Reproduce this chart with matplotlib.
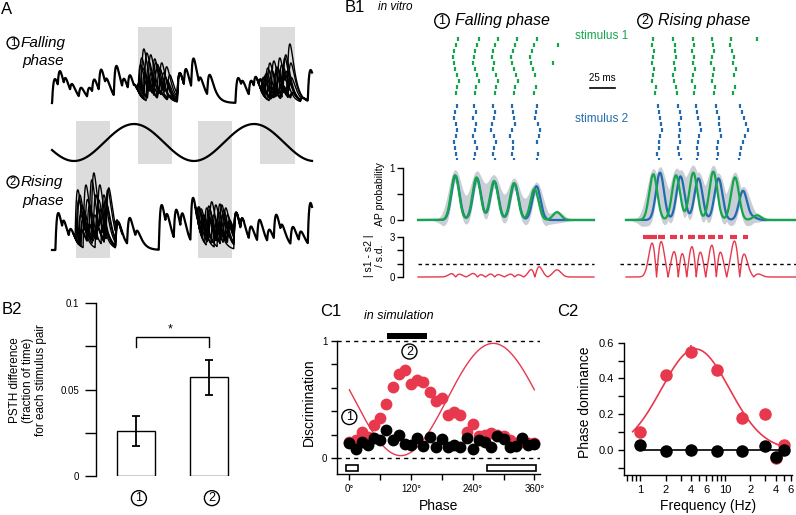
import numpy as np
import matplotlib.pyplot as plt
from matplotlib.patches import Rectangle

plt.rcParams['font.family'] = ['Liberation Sans', 'DejaVu Sans']
plt.rcParams['font.size'] = 7
plt.rcParams['axes.linewidth'] = 1.0

W, H = 796, 515
GREEN = '#14a64b'
BLUE = '#226bb0'
RED = '#e8384d'
SHADE = '#dcdcdc'
BAND = '#c9cdd5'

# ---------------- data ----------------
# A: EPSP peaks (time, height above rest)
top_peaks = [(3, 24), (8.7, 31), (14.7, 23), (21, 18), (29.7, 15), (38, 15), (43, 23), (49.7, 33),
             (56, 22), (64.7, 37), (73, 23), (78.7, 27), (84.7, 15), (88, 18), (98, 17), (108, 12),
             (118, 7), (128, 30), (134.7, 33), (142, 44), (149.7, 23), (158, 28), (186.3, 25),
             (192, 20), (199.7, 22), (204.7, 25), (209.7, 22), (221.3, 15), (231.3, 17),
             (241.3, 10), (251.3, 5), (258.7, 33)]
bottom_peaks = [(6.3, 37), (13, 27), (19.7, 20), (29.7, 20), (38, 25), (46.3, 22), (54.7, 18),
                (66.3, 28), (78, 32), (86.3, 18), (109.7, 45), (116.3, 33), (124.7, 40),
                (131.3, 35), (141.3, 52), (148, 40), (158, 32), (168, 25), (178, 23), (184.7, 37),
                (191.3, 30), (199.7, 23), (208, 30), (218, 20), (224.7, 35), (231.3, 23),
                (241.3, 23), (249.7, 18), (258.7, 47)]
# repeated trials inside the shaded windows
top_trials_1 = [[(90, 45), (100, 30), (110, 20)], [(92, 54), (104, 40), (114, 25)],
                [(95, 50), (108, 35)], [(89, 38), (99, 48), (112, 30)],
                [(97, 42), (106, 38), (116, 22)], [(93, 30), (103, 44), (118, 28)],
                [(91, 35), (101, 25), (110, 40)], [(94, 28), (105, 33), (115, 36)]]
top_trials_2 = [[(214, 28), (226, 35), (238, 59)], [(216, 35), (228, 45), (236, 30)],
                [(212, 25), (224, 30), (234, 48)], [(218, 40), (230, 38), (240, 25)],
                [(210, 22), (222, 42), (232, 35)], [(215, 30), (227, 25), (239, 40)],
                [(220, 33), (233, 45)], [(213, 26), (225, 36), (237, 22)]]
bottom_trials_1 = [[(28, 55), (40, 70), (50, 40)], [(30, 45), (42, 77), (54, 50)],
                   [(26, 60), (36, 50), (48, 65)], [(32, 40), (44, 55), (56, 60)],
                   [(29, 35), (38, 45), (52, 55)], [(27, 50), (46, 40), (57, 62)],
                   [(31, 30), (43, 35), (55, 45)], [(34, 65), (47, 50)]]
bottom_trials_2 = [[(150, 40), (160, 48), (172, 40)], [(152, 35), (164, 45), (176, 35)],
                   [(148, 30), (158, 40), (170, 45)], [(155, 42), (167, 38), (178, 30)],
                   [(151, 28), (162, 35), (174, 42)], [(149, 38), (165, 30)],
                   [(153, 32), (168, 46), (179, 28)], [(157, 44), (171, 36)]]

# B1: spike times (ms) per trial
green_left = [[55, 76, 95, 114, 134], [53, 74, 92, 112, 131, 155], [51, 72, 90, 110, 129],
              [50, 71, 89, 108, 127], [51, 70, 91, 109, 128, 150], [52, 72, 90, 111, 130],
              [54, 74, 93, 113, 132], [56, 76, 95, 115],
              [54, 73, 93, 112, 133], [53, 72, 92, 111, 131]]
green_right = [[250, 270, 290, 309, 328, 354], [249, 272, 291, 310, 327], [251, 272, 289, 311, 329],
               [250, 273, 291, 309, 331], [249, 271, 290, 308, 330], [251, 272, 292, 311, 333],
               [250, 270, 290, 310, 331], [249, 271, 289, 309], [253, 273, 292, 312, 332],
               [252, 274, 291, 311, 330]]
blue_left = [[54, 71, 90, 109, 134], [52, 73, 92, 110, 133], [51, 70, 91, 111, 132],
             [53, 73, 89, 112, 135], [54, 72, 88, 109, 137], [53, 70, 91, 107, 136],
             [51, 72, 93, 110, 134], [52, 74, 91, 110], [53, 72, 90, 109, 135],
             [54, 71, 92, 111, 134]]
blue_right = [[255, 275, 293, 313, 337], [256, 277, 294, 314, 339], [257, 278, 295, 316, 341],
              [258, 276, 297, 316, 343], [259, 277, 298, 317, 345], [257, 276, 296, 318, 342],
              [256, 277, 295, 315, 340], [256, 275, 294, 314, 338], [254, 276, 295, 315, 337],
              [256, 278, 294, 314, 336]]
# B1: PSTH peaks (time ms, AP probability)
psth_green = [(52, .86), (73.5, .82), (91, .75), (111, .71), (131.5, .60), (154, .15),
              (250.3, .88), (273, .86), (290.3, .91), (310.3, .93), (332, .82), (354, .09)]
psth_blue = [(52.5, .85), (74, .80), (91.5, .74), (111.5, .70), (133.5, .65),
             (257, .91), (277.5, .84), (295.5, .80), (315.5, .80), (340, .56), (350, .05)]
sig_marks = [(240, 254), (255, 262), (267, 274), (277, 280), (285, 292), (295, 302),
             (305, 312), (315, 320), (327, 334), (340, 345)]

# B2
b2_groups = ['1', '2']
b2_mean = [0.026, 0.057]
b2_err = [0.0085, 0.010]

# C1
c1_phase = np.arange(0, 361, 12)
c1_red = [0.14, 0.15, 0.22, 0.18, 0.28, 0.345, 0.46, 0.61, 0.72, 0.75, 0.63, 0.67, 0.65, 0.56,
          0.49, 0.51, 0.37, 0.39, 0.37, 0.22, 0.29, 0.19, 0.20, 0.21, 0.20, 0.19, 0.15, 0.13,
          0.14, 0.13, 0.13]
c1_red_err = [0.02, 0.02, 0.03, 0.03, 0.03, 0.03, 0.035, 0.03, 0.03, 0.025, 0.03, 0.03, 0.035,
              0.03, 0.03, 0.035, 0.03, 0.03, 0.025, 0.02, 0.025, 0.02, 0.02, 0.025, 0.025,
              0.02, 0.02, 0.02, 0.02, 0.02, 0.02]
c1_black = [0.13, 0.08, 0.14, 0.11, 0.17, 0.15, 0.24, 0.15, 0.20, 0.12, 0.11, 0.17, 0.10, 0.18,
            0.09, 0.16, 0.09, 0.11, 0.09, 0.17, 0.08, 0.15, 0.14, 0.09, 0.19, 0.16, 0.09, 0.10,
            0.17, 0.11, 0.12]
c1_black_err = [0.02] * len(c1_black)
c1_sine_center, c1_sine_amp, c1_sine_min = 0.5, 0.48, 100

# C2
c2_freq = [1, 2, 4, 8, 16, 30, 40, 50]
c2_red = [0.10, 0.42, 0.55, 0.445, 0.18, 0.20, -0.045, 0.03]
c2_red_err = [0.015, 0.03, 0.035, 0.03, 0.03, 0.025, 0.02, 0.02]
c2_black = [0.025, -0.005, 0.0, -0.005, -0.005, 0.02, -0.04, 0.0]
c2_fit_amp, c2_fit_peak, c2_fit_width = 0.565, 4.5, 0.40

# ---------------- helpers ----------------
fig = plt.figure(figsize=(W / 100, H / 100), dpi=100)


def px_axes(x0, y0, x1, y1):
    return fig.add_axes([x0 / W, 1 - y1 / H, (x1 - x0) / W, (y1 - y0) / H])


def ftext(x, y, s, **kw):
    fig.text(x / W, 1 - y / H, s, **kw)


def circled(ax_or_fig, x, y, s, size=9, pad=0.12, **kw):
    ax_or_fig.text(x, y, s, ha='center', va='center', fontsize=size,
                   bbox=dict(boxstyle='circle,pad=%g' % pad, fc='white', ec='black', lw=1.0), **kw)


def epsp_trace(tt, peaks, tau_r=2.0, tau_d=4.5):
    s_pk = tau_r * tau_d / (tau_d - tau_r) * np.log(tau_d / tau_r)
    norm = np.exp(-s_pk / tau_d) - np.exp(-s_pk / tau_r)
    v = np.zeros_like(tt)
    for tp, hp in sorted(peaks):
        resid = np.interp(tp, tt, v)
        s = np.clip(tt - (tp - s_pk), 0, None)
        v += max(hp - resid, 0) * (np.exp(-s / tau_d) - np.exp(-s / tau_r)) / norm
    return v


# ---------------- A ----------------
axA = px_axes(40, 20, 320, 262)
axA.set_xlim(-12, 268)
axA.set_ylim(0, 242)
axA.axis('off')
for w0, w1 in [(86, 120), (208, 243)]:
    axA.add_patch(Rectangle((w0, 98), w1 - w0, 137, fc=SHADE, ec='none', zorder=0))
for w0, w1 in [(24, 58), (146, 180)]:
    axA.add_patch(Rectangle((w0, 4), w1 - w0, 137, fc=SHADE, ec='none', zorder=0))

tt = np.linspace(0, 260, 2600)
for rest, base, wins in [(159, top_peaks, [((86, 120), top_trials_1), ((208, 243), top_trials_2)]),
                         (12, bottom_peaks, [((24, 58), bottom_trials_1), ((146, 180), bottom_trials_2)])]:
    axA.plot(tt, rest + epsp_trace(tt, base), color='black', lw=1.6, zorder=3)
    for (w0, w1), trials in wins:
        outside = [p for p in base if not (w0 <= p[0] <= w1)]
        seg = (tt >= w0 - 3) & (tt <= w1 + 12)
        for tr in trials:
            v = rest + epsp_trace(tt, outside + tr)
            axA.plot(tt[seg], v[seg], color='black', lw=1.0, zorder=2)

axA.plot(tt, 119.5 - 18.5 * np.cos(2 * np.pi * (tt - 22) / 120), color='black', lw=1.6)

ftext(1, 10, 'A', fontsize=12, va='center')
circled(fig, 13 / W, 1 - 43 / H, '1', size=8, pad=0.08)
ftext(21, 43, 'Falling', fontsize=11, style='italic', va='center')
ftext(22, 61, 'phase', fontsize=11, style='italic', va='center')
circled(fig, 13 / W, 1 - 182 / H, '2', size=8, pad=0.08)
ftext(21, 182, 'Rising', fontsize=11, style='italic', va='center')
ftext(22, 201, 'phase', fontsize=11, style='italic', va='center')

# ---------------- B1 ----------------
ftext(345, 7, 'B1', fontsize=12, va='center')
ftext(378, 7, 'in vitro', fontsize=8.5, style='italic', va='center')
circled(fig, 442 / W, 1 - 21 / H, '1', size=9, pad=0.1)
ftext(455, 21, 'Falling phase', fontsize=11.5, style='italic', va='center')
circled(fig, 645 / W, 1 - 21 / H, '2', size=9, pad=0.1)
ftext(658, 21, 'Rising phase', fontsize=11.5, style='italic', va='center')
ftext(602, 36, 'stimulus 1', fontsize=8.5, color=GREEN, ha='center', va='center')
ftext(602, 118.5, 'stimulus 2', fontsize=8.5, color=BLUE, ha='center', va='center')

axR = px_axes(403, 30, 796, 165)
axR.set_xlim(0, 393)
axR.set_ylim(135, 0)
axR.axis('off')
green_trials = [a + b for a, b in zip(green_left, green_right)]
blue_trials = [a + b for a, b in zip(blue_left, blue_right)]
axR.eventplot(green_trials, lineoffsets=[9 + 6 * i for i in range(10)], linelengths=4.8,
              linewidths=1.6, colors=GREEN)
axR.eventplot(blue_trials, lineoffsets=[76 + 6 * i for i in range(10)], linelengths=4.8,
              linewidths=1.6, colors=BLUE)
axR.plot([187, 212], [58, 58], color='black', lw=1.2)
axR.text(199.5, 53, '25 ms', fontsize=7, ha='center', va='bottom')

t = np.linspace(0, 393, 3000)


def psth(peaks, sigma=4.0, scale=1.0):
    y = np.zeros_like(t)
    for tp, h in peaks:
        y += h * scale * np.exp(-0.5 * ((t - tp) / sigma) ** 2)
    return y


g = psth(psth_green)
b = psth(psth_blue)
mx, mn = np.maximum(g, b), np.minimum(g, b)
env = np.clip(np.maximum(psth(psth_green, 9), psth(psth_blue, 9)) / 0.35, 0, 1)
upper = np.maximum(np.maximum(psth(psth_green, 6.5, 1.12), psth(psth_blue, 6.5, 1.12)), mx + 0.08 * env)
lower = mn - 0.12 * env
left = (t >= 15) & (t <= 191)
right = t >= 223

axP = px_axes(403, 160, 796, 228)
axP.set_xlim(0, 393)
axP.set_ylim(-0.154, 1.154)
for m in (left, right):
    axP.fill_between(t[m], lower[m], upper[m], color=BAND, lw=0)
    axP.plot(t[m], b[m], color=BLUE, lw=1.6)
    axP.plot(t[m], g[m], color=GREEN, lw=1.6)
axP.set_yticks([0, 0.5, 1])
axP.set_yticklabels(['0', '', '1'])
axP.set_xticks([])
for s in ('top', 'right', 'bottom'):
    axP.spines[s].set_visible(False)
axP.spines['left'].set_bounds(0, 1)
axP.tick_params(axis='y', direction='out', length=4, width=1, pad=2, labelsize=7)
axP.set_ylabel('AP probability', fontsize=7.5, labelpad=3)

axD = px_axes(403, 230, 796, 282)
axD.set_xlim(0, 393)
axD.set_ylim(-0.375, 3.525)
d = np.abs(g - b) / 0.28
axD.plot([15, 191], [1, 1], color='black', lw=1.0, ls=(0, (2.5, 2.5)))
axD.plot([217, 393], [1, 1], color='black', lw=1.0, ls=(0, (2.5, 2.5)))
for m in (left, right):
    axD.plot(t[m], d[m], color=RED, lw=1.0)
for s0, s1 in sig_marks:
    axD.plot([s0, s1], [3, 3], color=RED, lw=3, solid_capstyle='butt')
axD.set_yticks([0, 1, 2, 3])
axD.set_yticklabels(['0', '', '', '3'])
axD.set_xticks([])
for s in ('top', 'right', 'bottom'):
    axD.spines[s].set_visible(False)
axD.spines['left'].set_bounds(0, 3)
axD.tick_params(axis='y', direction='out', length=4, width=1, pad=2, labelsize=7)
axD.set_ylabel('| s1 - s2 |\n/ s.d.', fontsize=7.5, labelpad=3, linespacing=1.1)

# ---------------- B2 ----------------
ftext(2, 309, 'B2', fontsize=12, va='center')
axB2 = px_axes(96, 303, 240, 476)
xpos = np.arange(len(b2_groups))
axB2.bar(xpos, b2_mean, width=0.52, color='white', edgecolor='black', lw=1.0)
axB2.errorbar(xpos, b2_mean, yerr=b2_err, fmt='none', ecolor='black', elinewidth=1.3,
              capsize=3, capthick=1.3)
axB2.set_xlim(-0.548, 1.425)
axB2.set_ylim(0, 0.1)
axB2.plot([0, 0, 1, 1], [0.0745, 0.0802, 0.0802, 0.0745], color='black', lw=1.0, clip_on=False)
axB2.text(0.47, 0.0815, '*', ha='center', va='bottom', fontsize=9)
for xi, lab in zip(xpos, b2_groups):
    circled(axB2, xi + 0.04, -0.0128, lab, size=9, clip_on=False)
axB2.set_yticks([0, 0.025, 0.05, 0.075, 0.1])
axB2.set_yticklabels(['0', '', '0.05', '', '0.1'])
axB2.set_xticks([])
for s in ('top', 'right', 'bottom'):
    axB2.spines[s].set_visible(False)
axB2.tick_params(axis='y', direction='out', length=8, width=1, pad=4, labelsize=7)
ftext(28, 380, 'PSTH difference\n(fraction of time)\nfor each stimulus pair', rotation=90,
      fontsize=8.5, ha='center', va='center', linespacing=1.15)

# ---------------- C1 ----------------
ftext(320, 312, 'C1', fontsize=12, va='center')
ftext(364, 316, 'in simulation', fontsize=9, style='italic', va='center')
axC1 = px_axes(337, 330, 540, 474)
axC1.set_xlim(-24, 371)
axC1.set_ylim(-0.137, 1.094)
axC1.axhline(1, color='black', lw=1.0, ls=(0, (3, 3)))
axC1.axhline(0, color='black', lw=1.0, ls=(0, (3, 3)))
ph = np.linspace(0, 360, 361)
axC1.plot(ph, c1_sine_center - c1_sine_amp * np.cos(np.radians(ph - c1_sine_min)), color=RED, lw=1.0)
axC1.errorbar(c1_phase, c1_red, yerr=c1_red_err, fmt='o', color=RED, ms=8.5, mew=0,
              ecolor=RED, elinewidth=1.2, capsize=3, capthick=1.2, zorder=3)
axC1.errorbar(c1_phase, c1_black, yerr=c1_black_err, fmt='o', color='black', ms=8.5, mew=0,
              ecolor='black', elinewidth=1.2, capsize=3, capthick=1.2, zorder=4)
axC1.add_patch(Rectangle((-7, -0.108), 23, 0.048, fc='white', ec='black', lw=1.2))
axC1.add_patch(Rectangle((267, -0.108), 96, 0.048, fc='white', ec='black', lw=1.2))
axC1.add_patch(Rectangle((73, 1.02), 78, 0.05, fc='black', ec='black', lw=0, clip_on=False))
circled(axC1, 0, 0.35, '1', size=9)
circled(axC1, 117, 0.91, '2', size=9)
axC1.set_xticks(np.arange(0, 361, 60))
axC1.set_xticklabels(['0°', '', '120°', '', '240°', '', '360°'])
axC1.set_yticks(np.arange(0, 1.01, 0.2))
axC1.set_yticklabels(['0', '', '', '', '', '1'])
for s in ('top', 'right'):
    axC1.spines[s].set_visible(False)
axC1.spines['left'].set_bounds(-0.137, 1)
axC1.tick_params(direction='out', length=4, width=1, pad=3, labelsize=7)
axC1.set_xlabel('Phase', fontsize=10, labelpad=4)
axC1.set_ylabel('Discrimination', fontsize=10, labelpad=4)

# ---------------- C2 ----------------
ftext(557, 312, 'C2', fontsize=12, va='center')
axC2 = px_axes(624, 330, 792, 475)
axC2.set_xscale('log')
axC2.set_xlim(0.648, 61.7)
axC2.set_ylim(-0.14, 0.671)
ff = np.logspace(np.log10(0.82), np.log10(57), 200)
axC2.plot(ff, c2_fit_amp * np.exp(-(np.log10(ff) - np.log10(c2_fit_peak)) ** 2 / (2 * c2_fit_width ** 2)),
          color=RED, lw=1.2)
axC2.plot([1, 55], [0, 0], color='black', lw=1.2)
axC2.errorbar(c2_freq, c2_red, yerr=c2_red_err, fmt='o', color=RED, ms=9, mew=0,
              ecolor=RED, elinewidth=1.2, capsize=3, capthick=1.2, zorder=3)
axC2.errorbar(c2_freq, c2_black, fmt='o', color='black', ms=9, mew=0, zorder=4)
axC2.set_xticks([1, 2, 4, 6, 10, 20, 40, 60])
axC2.set_xticklabels(['1', '2', '4', '6', '10', '2', '4', '6'])
axC2.set_xticks([0.7, 0.8, 0.9, 3, 5, 7, 8, 9, 30, 50], minor=True)
axC2.set_xticklabels([], minor=True)
axC2.set_yticks([0, 0.2, 0.4, 0.6])
axC2.set_yticklabels(['0.0', '0.2', '0.4', '0.6'])
axC2.set_yticks([-0.1, 0.1, 0.3, 0.5], minor=True)
for s in ('top', 'right'):
    axC2.spines[s].set_visible(False)
axC2.spines['left'].set_bounds(-0.14, 0.6)
axC2.tick_params(which='both', direction='out', length=4, width=1, pad=3, labelsize=8)
axC2.set_xlabel('Frequency (Hz)', fontsize=10, labelpad=3)
axC2.set_ylabel('Phase dominance', fontsize=10, labelpad=5)

fig.savefig('out.png', dpi=100)
